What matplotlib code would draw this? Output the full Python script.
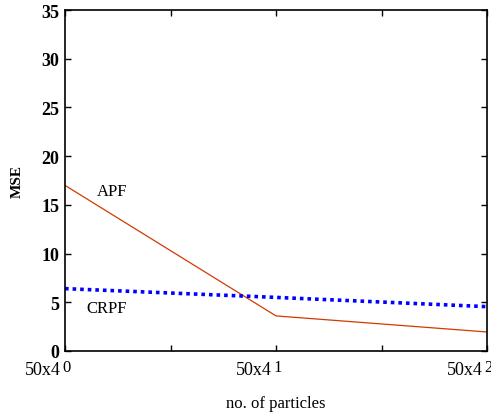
import numpy as np
import matplotlib
matplotlib.use('Agg')
import matplotlib.pyplot as plt

plt.rcParams['font.family'] = 'Liberation Serif'

# data
x_pos = [0, 1, 2]
apf = [17.0, 3.6, 1.95]
crpf = [6.4, 5.5, 4.55]
x_base = ['50x4', '50x4', '50x4']
x_exp = ['0', '1', '2']
y_ticks = [0, 5, 10, 15, 20, 25, 30, 35]

fig = plt.figure(figsize=(4.91, 4.14), dpi=100)
ax = fig.add_axes([0.1324, 0.1498, 0.8595, 0.8236])

ax.plot(x_pos, apf, color='#d03a00', lw=0.9)
ax.plot(x_pos, crpf, color='#0000ff', lw=2.6, linestyle=(0, (1, 1.1)))

ax.text(0.15, 16.4, 'APF', fontsize=12, va='center')
ax.text(0.10, 4.4, 'CRPF', fontsize=12, va='center')

ax.set_xlim(0, 2)
ax.set_ylim(0, 35)
ax.set_yticks(y_ticks)
ax.set_yticklabels([str(v) for v in y_ticks], fontsize=13, fontweight='bold')
ax.set_xticks([0, 0.5, 1, 1.5, 2])
ax.set_xticklabels([])

# x tick labels: base plus raised exponent centred on the tick
for xp, b, e in zip(x_pos, x_base, x_exp):
    ax.annotate(b, xy=(xp, 0), xycoords=('data', 'axes fraction'),
                xytext=(-3, -7.5), textcoords='offset points',
                ha='right', va='top', fontsize=13)
    ax.annotate(e, xy=(xp, 0), xycoords=('data', 'axes fraction'),
                xytext=(1, -5.5), textcoords='offset points',
                ha='center', va='top', fontsize=12, annotation_clip=False)

ax.tick_params(direction='in', top=True, right=True, length=4, width=1, pad=4)
for s in ax.spines.values():
    s.set_linewidth(1.2)

ax.set_xlabel('no. of particles', fontsize=12, labelpad=28)
ax.set_ylabel('MSE', fontsize=11, fontweight='bold', labelpad=13)

fig.savefig('out.png', dpi=100)
